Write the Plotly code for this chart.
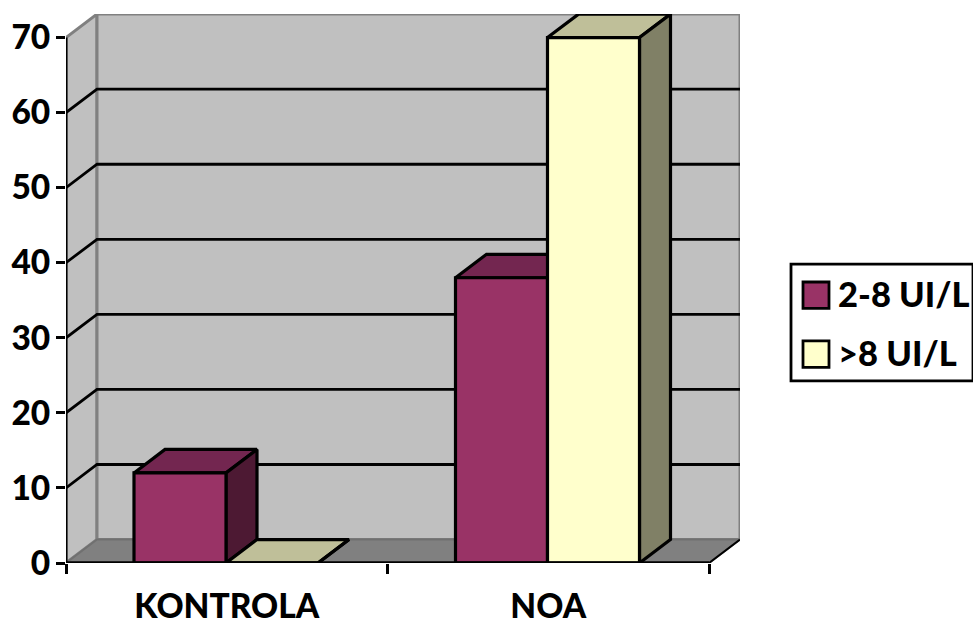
import plotly.graph_objects as go

categories = ["KONTROLA", "NOA"]
series_names = ["2-8 UI/L", ">8 UI/L"]
series_low = [12, 38]
series_high = [0, 70]
y_ticks = [0, 10, 20, 30, 40, 50, 60, 70]

# styles
FRONT = ["#993366", "#FFFFCC"]
TOP = ["#732650", "#BFBF99"]
SIDE = ["#4D1933", "#808066"]
FONT = dict(family="Lato, Carlito, 'Open Sans', sans-serif", size=33.5, color="#000000", weight=900)
LEGEND_FONT = dict(FONT, size=34.5)
W, H = 973, 625
L, R, T, B = 66, 740, 13.5, 563.5
UNIT_Y = 7.52
DEPTH_X = 31 / 321.5
DEPTH_Y = 23.5 / UNIT_Y
BAR_W = 92 / 321.5
BAR_OFF = 68 / 321.5
N = len(categories)
YMAX = y_ticks[-1]

fig = go.Figure()


def poly(xs, ys, fill, line="#000000", lw=3.2):
    fig.add_trace(go.Scatter(x=xs + xs[:1], y=ys + ys[:1], mode="lines", fill="toself",
                             fillcolor=fill, line=dict(color=line, width=lw),
                             hoverinfo="skip", showlegend=False, cliponaxis=False))


def seg(xs, ys, color="#000000", lw=2.8):
    fig.add_trace(go.Scatter(x=xs, y=ys, mode="lines", line=dict(color=color, width=lw),
                             hoverinfo="skip", showlegend=False, cliponaxis=False))


# walls and floor
poly([0, DEPTH_X, DEPTH_X, 0], [0, DEPTH_Y, YMAX + DEPTH_Y, YMAX], "#C0C0C0", "#808080", 3)
poly([DEPTH_X, N + DEPTH_X, N + DEPTH_X, DEPTH_X], [DEPTH_Y, DEPTH_Y, YMAX + DEPTH_Y, YMAX + DEPTH_Y],
     "#C0C0C0", "#808080", 3)
poly([0, N, N + DEPTH_X, DEPTH_X], [0, 0, DEPTH_Y, DEPTH_Y], "#808080", "#707070", 2)
seg([N, N + DEPTH_X], [0, DEPTH_Y], "#000000", 2)

# gridlines
for v in y_ticks[1:-1]:
    seg([0, DEPTH_X, N + DEPTH_X], [v, v + DEPTH_Y, v + DEPTH_Y])

# bars
for c in range(N):
    for s, vals in enumerate([series_low, series_high]):
        v = vals[c]
        x0 = c + BAR_OFF + s * BAR_W
        x1 = x0 + BAR_W
        poly([x0, x1, x1 + DEPTH_X, x0 + DEPTH_X], [v, v, v + DEPTH_Y, v + DEPTH_Y], TOP[s])
        poly([x1, x1 + DEPTH_X, x1 + DEPTH_X, x1], [0, DEPTH_Y, v + DEPTH_Y, v], SIDE[s])
        poly([x0, x1, x1, x0], [0, 0, v, v], FRONT[s])

# axis lines
seg([0, 0], [0, YMAX], "#000000", 3)
seg([0, N], [0, 0], "#000000", 3.5)


def px(x):
    return (x - L) / (R - L)


def py(y):
    return (B - y) / (B - T)


shapes = [dict(type="rect", xref="paper", yref="paper", x0=px(791), x1=px(973), y0=py(381), y1=py(264),
               line=dict(color="#000000", width=2.8), fillcolor="#FFFFFF")]
annotations = []
for i, name in enumerate(series_names):
    top = 282 + i * 59
    shapes.append(dict(type="rect", xref="paper", yref="paper", x0=px(803), x1=px(829),
                       y0=py(top + 26.5), y1=py(top), line=dict(color="#000000", width=2.8),
                       fillcolor=FRONT[i]))
    annotations.append(dict(text=name, xref="paper", yref="paper", x=px(835.5), y=py(top + 12),
                            xanchor="left", yanchor="middle", showarrow=False, font=LEGEND_FONT))

fig.update_layout(
    width=W, height=H, autosize=False,
    margin=dict(l=L, r=W - R, t=T, b=H - B, pad=0),
    paper_bgcolor="#FFFFFF", plot_bgcolor="rgba(0,0,0,0)",
    showlegend=False, shapes=shapes, annotations=annotations,
    xaxis=dict(range=[0, N + DEPTH_X], tickmode="array",
               tickvals=[i + 0.5 for i in range(N)], ticktext=categories,
               ticks="", showgrid=False, zeroline=False, showline=False,
               tickfont=FONT, ticklabelstandoff=20, automargin=False,
               minor=dict(tickmode="array", tickvals=list(range(N + 1)), ticks="outside",
                          ticklen=10, tickwidth=2.5, tickcolor="#000000", showgrid=False)),
    yaxis=dict(range=[0, (B - T) / UNIT_Y], tickmode="array", tickvals=y_ticks,
               ticktext=[str(t) for t in y_ticks], ticks="outside", ticklen=9, tickwidth=3,
               tickcolor="#000000", showgrid=False, zeroline=False, showline=False,
               tickfont=FONT, automargin=False, ticklabelstandoff=-1),
)

fig.write_html("out.html", config=dict(displayModeBar=False),
               post_script="document.body.style.margin='0';")
